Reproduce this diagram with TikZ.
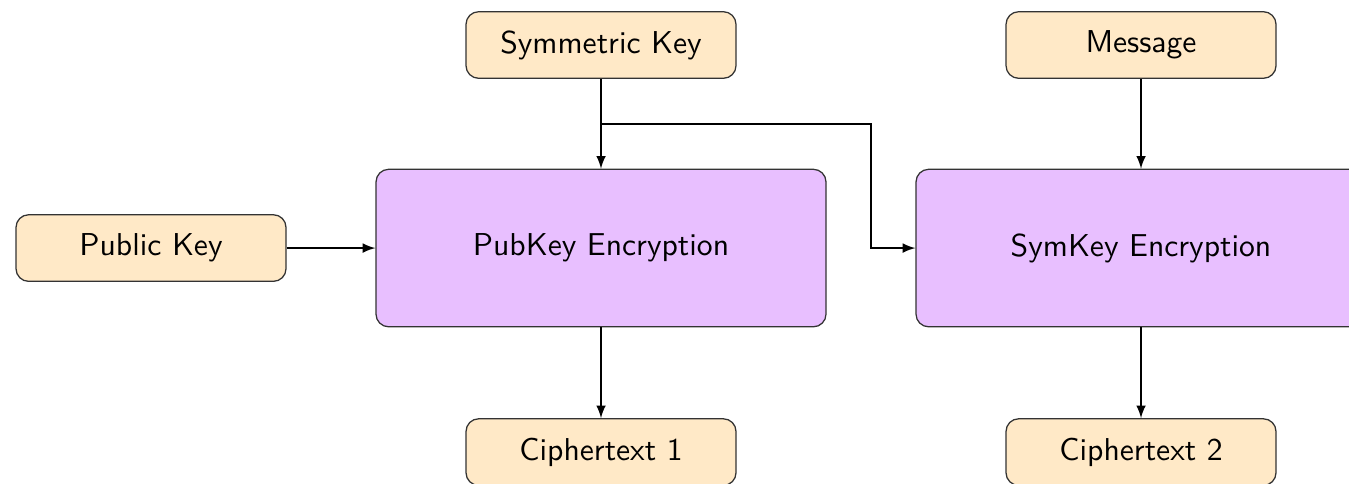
\documentclass[tikz,border=0pt]{standalone}
\usepackage{amsmath, amssymb}
\definecolor{inputfill}{HTML}{FFE9C7}
\definecolor{encfill}{HTML}{E8BFFF}

\begin{document}
\begin{tikzpicture}
[data/.style={rectangle,rounded corners=4pt,draw=black!80, fill=inputfill, thin, minimum width=3cm, minimum height=0.74cm, text centered, font=\sffamily},
enc/.style={rectangle,rounded corners=4pt,draw=black!80, fill=encfill, thin, minimum width=5cm, minimum height=1.75cm, text centered, font=\sffamily},
classical/.style={thin,->,shorten >=0pt,shorten <=0pt,>=latex},]
\useasboundingbox (-6.678,-2.611) rectangle (8.311,2.756);

% first row
\node[data] (sk) at (0,2.256) {Symmetric Key};
\node[data] (msg) at (6,2.256) {Message};

% second row
\node[data] (pk) at (-5,0) {Public Key};
\node[enc] (pke) at (0,0) {PubKey Encryption};
\node[enc] (ske) at (6,0) {SymKey Encryption};

% third row
\node[data] (c1) at (0,-2.267) {Ciphertext 1};
\node[data] (c2) at (6,-2.267) {Ciphertext 2};

\coordinate (fork) at (0,1.378);
\coordinate (bend) at (3,1.378);

\draw[classical] (sk) to (pke);
\draw[classical] (fork) -- (bend) |- (ske.west);
\draw[classical] (msg) to (ske);
\draw[classical] (pk) to (pke);
\draw[classical] (pke) to (c1);
\draw[classical] (ske) to (c2);

\end{tikzpicture}
\end{document}
